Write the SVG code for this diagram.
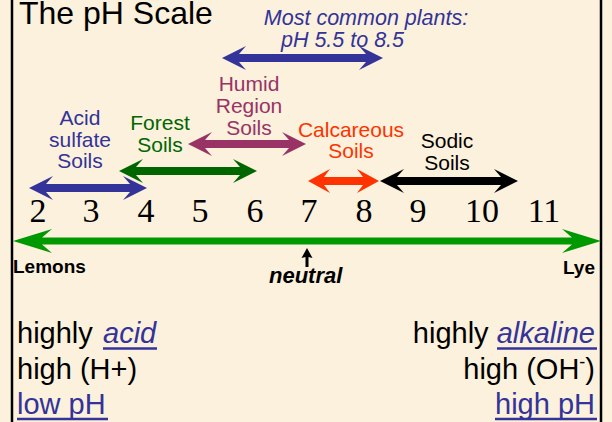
<svg xmlns="http://www.w3.org/2000/svg" width="612" height="422" viewBox="0 0 612 422">
<style>
.s{font-family:"Liberation Sans",Arial,sans-serif}
.lab{font-family:"Liberation Sans",Arial,sans-serif;font-size:21px;text-anchor:middle}
.num{font-family:"Liberation Serif","Times New Roman",serif;font-size:34px;text-anchor:middle;fill:#000}
.big{font-family:"Liberation Sans",Arial,sans-serif;font-size:29px;fill:#000}
.blue{fill:#333399}
.ul{stroke:#333399;stroke-width:2.5}
</style>
<rect width="612" height="422" fill="#FBF1DC"/>
<line x1="12" y1="0" x2="12" y2="422" stroke="#000" stroke-width="2.5"/>
<line x1="601" y1="0" x2="601" y2="422" stroke="#000" stroke-width="2.5"/>
<text class="s" x="19" y="24" font-size="32" fill="#000">The pH Scale</text>
<g id="connectors">
<path id="mainScale" fill="#009900" d="M13,241 L52,229 L42,237.5 L572,237.5 L562,229 L601,241 L562,253 L572,244.5 L42,244.5 L52,253 Z"/>
<path id="mostCommonArrow" fill="#333399" d="M222,58 L246,46 L239,54 L366,54 L359,46 L383,58 L359,70 L366,62 L239,62 L246,70 Z"/>
<path id="humidArrow" fill="#993366" d="M188,144 L212,132 L205,140 L289,140 L282,132 L306,144 L282,156 L289,148 L205,148 L212,156 Z"/>
<path id="forestArrow" fill="#006600" d="M119,171 L143,159 L136,167 L240,167 L233,159 L257,171 L233,183 L240,175 L136,175 L143,183 Z"/>
<path id="acidArrow" fill="#333399" d="M29,188 L53,176 L46,184 L130,184 L123,176 L147,188 L123,200 L130,192 L46,192 L53,200 Z"/>
<path id="calcArrow" fill="#FF3300" d="M308,181 L330,169 L324,177 L363,177 L357,169 L379,181 L357,193 L363,185 L324,185 L330,193 Z"/>
<path id="sodicArrow" fill="#000000" d="M380,181 L404,169 L397,177 L501,177 L494,169 L518,181 L494,193 L501,185 L397,185 L404,193 Z"/>
<path id="neutralArrow" fill="#000" d="M305.5,267 L305.5,257 L301.5,258 L307,248 L312.5,258 L308.5,257 L308.5,267 Z"/>
</g>
<g id="mostCommon">
<text class="s blue" font-size="21.5" font-style="italic" text-anchor="middle" x="366" y="25">Most common plants:</text>
<text class="s blue" font-size="21.5" font-style="italic" text-anchor="middle" x="342.5" y="47">pH 5.5 to 8.5</text>
</g>
<g id="humid">
<text class="lab" fill="#993366" x="249" y="91">Humid</text>
<text class="lab" fill="#993366" x="249" y="113">Region</text>
<text class="lab" fill="#993366" x="249" y="135">Soils</text>
</g>
<g id="acidSulfate">
<text class="lab blue" x="80" y="125">Acid</text>
<text class="lab blue" x="80" y="147">sulfate</text>
<text class="lab blue" x="80" y="168">Soils</text>
</g>
<g id="forest">
<text class="lab" fill="#006600" x="160" y="130">Forest</text>
<text class="lab" fill="#006600" x="160" y="152">Soils</text>
</g>
<g id="calcareous">
<text class="lab" fill="#FF3300" x="351" y="137">Calcareous</text>
<text class="lab" fill="#FF3300" x="351" y="158">Soils</text>
</g>
<g id="sodic">
<text class="lab" fill="#000" x="447" y="148">Sodic</text>
<text class="lab" fill="#000" x="447" y="170">Soils</text>
</g>
<g id="numbers">
<text class="num" x="38" y="222">2</text>
<text class="num" x="91" y="222">3</text>
<text class="num" x="146" y="222">4</text>
<text class="num" x="200" y="222">5</text>
<text class="num" x="255" y="222">6</text>
<text class="num" x="309" y="222">7</text>
<text class="num" x="364" y="222">8</text>
<text class="num" x="418" y="222">9</text>
<text class="num" x="482" y="222">10</text>
<text class="num" x="544" y="222">11</text>
</g>
<g id="lemons"><text class="s" font-size="19" font-weight="bold" x="13" y="273">Lemons</text></g>
<g id="lye"><text class="s" font-size="19" font-weight="bold" text-anchor="end" x="595" y="274">Lye</text></g>
<g id="neutral"><text class="s" font-size="22" font-weight="bold" font-style="italic" x="269" y="283">neutral</text></g>
<g id="acidSide">
<text class="big" x="17" y="343">highly <tspan class="blue" font-style="italic" x="103">acid</tspan></text>
<line class="ul" x1="103" y1="348.5" x2="157" y2="348.5"/>
<text class="big" x="17" y="379">high (H+)</text>
<text class="big blue" x="17" y="414">low pH</text>
<line class="ul" x1="17" y1="419" x2="108" y2="419"/>
</g>
<g id="alkalineSide">
<text class="big" text-anchor="end" x="595" y="343">highly <tspan class="blue" font-style="italic">alkaline</tspan></text>
<line class="ul" x1="497" y1="348.5" x2="597" y2="348.5"/>
<text class="big" text-anchor="end" x="595" y="379">high (OH<tspan font-size="18" dy="-11">-</tspan><tspan dy="11">)</tspan></text>
<text class="big blue" text-anchor="end" x="595" y="414">high pH</text>
<line class="ul" x1="495" y1="419" x2="597" y2="419"/>
</g>
</svg>
